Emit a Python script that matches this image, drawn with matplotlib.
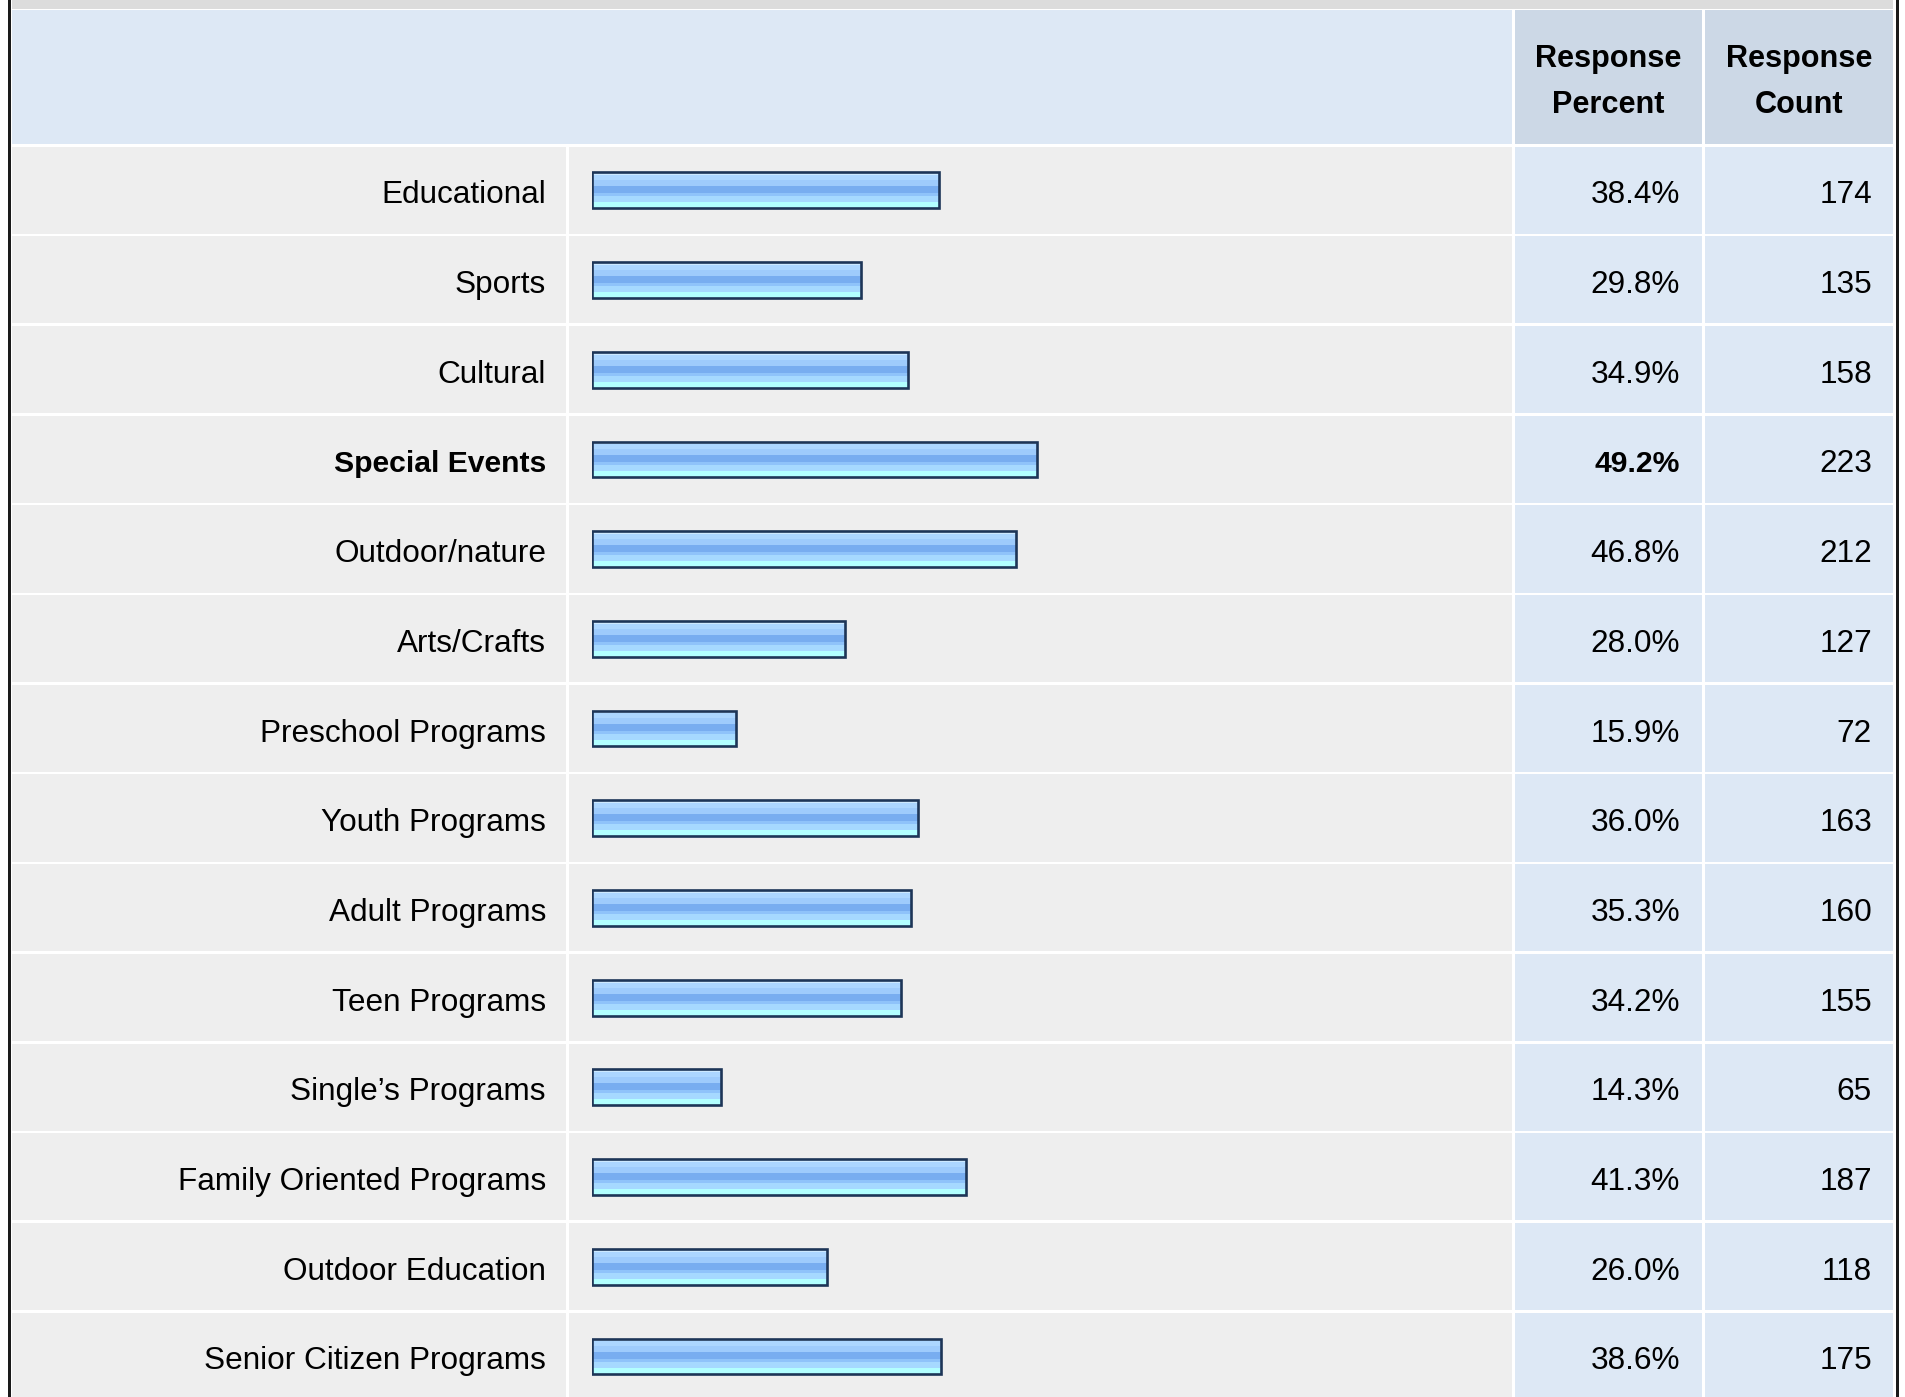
import numpy as np
import matplotlib
matplotlib.use("Agg")
import matplotlib.pyplot as plt
from matplotlib.patches import Rectangle
from matplotlib.colors import to_rgb

plt.rcParams['font.family'] = ['Liberation Sans', 'DejaVu Sans']

# Survey data
categories = [
    "Educational", "Sports", "Cultural", "Special Events", "Outdoor/nature",
    "Arts/Crafts", "Preschool Programs", "Youth Programs", "Adult Programs",
    "Teen Programs", "Single\u2019s Programs", "Family Oriented Programs",
    "Outdoor Education", "Senior Citizen Programs",
]
percents = [38.4, 29.8, 34.9, 49.2, 46.8, 28.0, 15.9, 36.0, 35.3, 34.2, 14.3, 41.3, 26.0, 38.6]
counts = [174, 135, 158, 223, 212, 127, 72, 163, 160, 155, 65, 187, 118, 175]
header_percent = "Response\nPercent"
header_count = "Response\nCount"

W, H = 1905, 1397
ROW_TOP = 145.5
ROW_H = 89.7
GAP = 2.5
FS = 22.7
FS_BOLD = 21.7

# column edges (pixels)
X0, X_DIV1, X_DIV2, X_DIV3, X1 = 12, 566, 1512, 1702, 1893

HEADER_BG = "#dde8f5"
HEADER_DARK = "#ccd8e6"
ROW_BG = "#eeeeee"
NUM_BG = "#dde8f5"

fig = plt.figure(figsize=(W / 100, H / 100), dpi=100)
fig.patch.set_facecolor("white")
bg = fig.add_axes([0, 0, 1, 1])
bg.set_xlim(0, W)
bg.set_ylim(H, 0)
bg.axis("off")


def cell(x0, y0, x1, y1, color):
    bg.add_patch(Rectangle((x0, y0), x1 - x0, y1 - y0, facecolor=color,
                           edgecolor="none", zorder=1))


# outer frame
cell(8, 0, 10.5, H, "#1a1a1a")
cell(1896, 0, 1899, H, "#1a1a1a")
cell(X0, 0, X1, 9, "#dcdcdc")

# header
cell(X0, 10, X_DIV2, 144, HEADER_BG)
cell(X_DIV2 + 3, 10, X_DIV3, 144, HEADER_DARK)
cell(X_DIV3 + 3, 10, X1, 144, HEADER_DARK)
bg.text((X_DIV2 + 3 + X_DIV3) / 2, 82, header_percent, ha="center", va="center",
        fontsize=FS - 0.6, fontweight="bold", linespacing=1.67, zorder=3)
bg.text((X_DIV3 + 3 + X1) / 2, 82, header_count, ha="center", va="center",
        fontsize=FS - 0.6, fontweight="bold", linespacing=1.67, zorder=3)

n = len(categories)
imax = int(np.argmax(percents))
for i in range(n):
    top = ROW_TOP + 1 + i * ROW_H
    bot = ROW_TOP + (i + 1) * ROW_H - GAP + 1
    cell(X0, top, X_DIV1, bot, ROW_BG)
    cell(X_DIV1 + 3, top, X_DIV2, bot, ROW_BG)
    cell(X_DIV2 + 3, top, X_DIV3, bot, NUM_BG)
    cell(X_DIV3 + 3, top, X1, bot, NUM_BG)
    yc = ROW_TOP + (i + 0.5) * ROW_H + 5
    bold = i == imax
    weight = "bold" if bold else "normal"
    size = FS_BOLD if bold else FS
    bg.text(546, yc, categories[i], ha="right", va="center", fontsize=size,
            fontweight=weight, zorder=3)
    bg.text(1680, yc, f"{percents[i]:.1f}%", ha="right", va="center",
            fontsize=size, fontweight=weight, zorder=3)
    bg.text(1872, yc, f"{counts[i]}", ha="right", va="center",
            fontsize=FS, zorder=3)

# bar panel: 0-100% mapped across the bar column
bar_left_px, px_per_pct = 591.5, 9.06
panel_bottom_px = ROW_TOP + n * ROW_H
ax = fig.add_axes([bar_left_px / W, (H - panel_bottom_px) / H,
                   100 * px_per_pct / W, n * ROW_H / H])
ax.set_xlim(0, 100)
ax.set_ylim(n - 0.5, -0.5)
ax.axis("off")
ax.patch.set_alpha(0)

# glossy stripes from top to bottom of each bar
stripes = [
    (0.09, "#cde9ff"), (0.22, "#acd6ff"), (0.38, "#9ecbfc"), (0.58, "#78adf0"),
    (0.68, "#8fc3fa"), (0.82, "#a6d9ff"), (1.00, "#b2ffff"),
]
grad_rows = 200
grad = np.zeros((grad_rows, 1, 3))
for r in range(grad_rows):
    f = (r + 0.5) / grad_rows
    for edge, col in stripes:
        if f <= edge:
            grad[r, 0] = to_rgb(col)
            break

bar_h = 0.40
ypos = np.arange(n)
bars = ax.barh(ypos, percents, height=bar_h, facecolor="none",
               edgecolor="#1d3557", linewidth=1.9, zorder=3)
for b in bars:
    x, y, w, h = b.get_x(), b.get_y(), b.get_width(), b.get_height()
    im = ax.imshow(grad, extent=(x, x + w, y + h, y), origin="upper",
                   aspect="auto", interpolation="nearest", zorder=2)
    im.set_clip_path(b)

fig.savefig("out.png", dpi=100, facecolor="white")
